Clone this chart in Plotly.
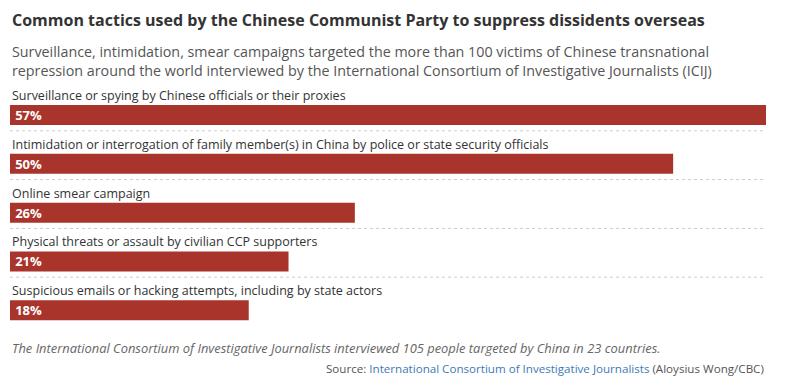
import plotly.graph_objects as go

categories = [
    "Surveillance or spying by Chinese officials or their proxies",
    "Intimidation or interrogation of family member(s) in China by police or state security officials",
    "Online smear campaign",
    "Physical threats or assault by civilian CCP supporters",
    "Suspicious emails or hacking attempts, including by state actors",
]
values = [57, 50, 26, 21, 18]
value_labels = ["57%", "50%", "26%", "21%", "18%"]

title = "Common tactics used by the Chinese Communist Party to suppress dissidents overseas"
subtitle = ("Surveillance, intimidation, smear campaigns targeted the more than 100 victims of Chinese transnational<br>"
            "repression around the world interviewed by the International Consortium of Investigative Journalists (ICIJ)")
note = "The International Consortium of Investigative Journalists interviewed 105 people targeted by China in 23 countries."

FONT = "Open Sans"
BAR = "#a9342b"

fig = go.Figure()
fig.add_trace(go.Bar(
    x=values, y=categories, orientation="h",
    marker=dict(color=BAR, line=dict(width=0)),
    width=0.41, offset=-0.028,
    text=["<b>\u2009" + t + "</b>" for t in value_labels],
    textposition="inside", insidetextanchor="start", constraintext="none",
    insidetextfont=dict(color="white", size=13, family=FONT),
    hoverinfo="skip",
))

W, H = 800, 386
top, bottom = 82, 386 - 325.75
fig.update_layout(
    width=W, height=H,
    margin=dict(l=10, r=34, t=top, b=bottom),
    paper_bgcolor="white", plot_bgcolor="white",
    showlegend=False,
    xaxis=dict(range=[0, 57], visible=False, fixedrange=True),
    yaxis=dict(autorange="reversed", visible=False, type="category", fixedrange=True),
    font=dict(family=FONT),
)

for i, c in enumerate(categories):
    fig.add_annotation(x=0, y=i - 0.028, xref="x", yref="y", text=c,
                       showarrow=False, xanchor="left", yanchor="bottom", yshift=-1,
                       font=dict(size=12.5, color="#333333", family=FONT))
for i in range(len(categories) - 1):
    fig.add_shape(type="line", x0=0, x1=57, y0=i + 0.5, y1=i + 0.5, xref="x", yref="y",
                  line=dict(color="#cccccc", width=1, dash="dot"))

plot_w = W - 10 - 34
plot_h = H - top - bottom
def px(x):
    return (x - 10) / plot_w
def py(y):
    return (H - bottom - y) / plot_h

fig.add_annotation(x=px(10), y=py(20), xref="paper", yref="paper", text="<b>" + title + "</b>",
                   showarrow=False, xanchor="left", yanchor="middle",
                   font=dict(size=16, color="#333333", family=FONT))
fig.add_annotation(x=px(10), y=py(61), xref="paper", yref="paper", text=subtitle,
                   showarrow=False, xanchor="left", yanchor="middle", align="left",
                   font=dict(size=14.3, color="#555555", family=FONT))
fig.add_annotation(x=px(10), y=py(348), xref="paper", yref="paper", text="<i>" + note + "</i>",
                   showarrow=False, xanchor="left", yanchor="middle",
                   font=dict(size=12.9, color="#666666", family=FONT))
fig.add_annotation(x=px(766), y=py(368), xref="paper", yref="paper",
                   text="Source: <span style='color:#3d7ab5'>International Consortium of Investigative Journalists</span> (Aloysius Wong/CBC)",
                   showarrow=False, xanchor="right", yanchor="middle",
                   font=dict(size=11.6, color="#555555", family=FONT))

fig.write_html("out.html")
